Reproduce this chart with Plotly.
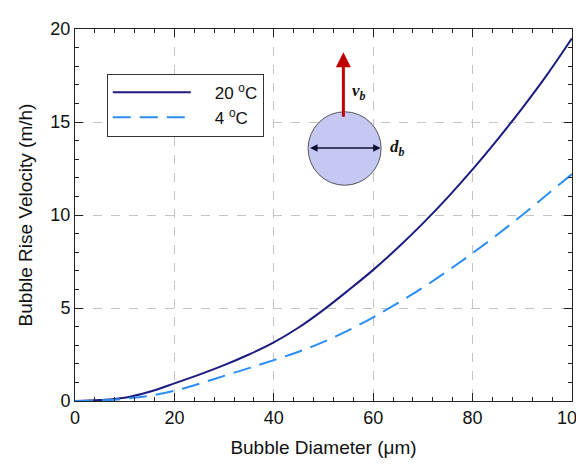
import plotly.graph_objects as go

diameter_um = [0, 5, 10, 15, 20, 25, 30, 35, 40, 45, 50, 55, 60, 65, 70, 75, 80, 85, 90, 95, 100]
velocity_20C = [0, 0.05, 0.18, 0.5, 0.95, 1.42, 1.93, 2.5, 3.15, 3.95, 4.9, 5.95, 7.05, 8.25, 9.55, 10.95, 12.45, 14.05, 15.75, 17.55, 19.5]
velocity_4C = [0, 0.03, 0.12, 0.28, 0.55, 0.93, 1.35, 1.77, 2.2, 2.65, 3.18, 3.8, 4.5, 5.27, 6.1, 7.0, 7.95, 8.95, 10.0, 11.1, 12.2]
series_names = ["&nbsp;&nbsp;&nbsp;&nbsp;20 <sup>o</sup>C", "&nbsp;&nbsp;&nbsp;&nbsp;4 <sup>o</sup>C"]
x_ticks = [0, 20, 40, 60, 80, 100]
y_ticks = [0, 5, 10, 15, 20]

FONT = "Liberation Sans, Arial, sans-serif"

fig = go.Figure()
fig.add_trace(go.Scatter(x=diameter_um, y=velocity_20C, mode="lines", name=series_names[0],
                         line=dict(color="#1c1c80", width=2, shape="spline", smoothing=1.0)))
fig.add_trace(go.Scatter(x=diameter_um, y=velocity_4C, mode="lines", name=series_names[1],
                         line=dict(color="#2b8ef0", width=2, dash="18px,9px", shape="spline", smoothing=1.0)))

# bubble illustration
fig.add_shape(type="circle", xref="x", yref="y", x0=46.9, x1=61.6, y0=11.6, y1=15.55,
              fillcolor="#c6c8f4", line=dict(color="#555555", width=1), layer="above")
fig.add_annotation(x=54.0, y=18.75, ax=54.0, ay=15.2, xref="x", yref="y", axref="x", ayref="y",
                   showarrow=True, arrowhead=2, arrowsize=1, arrowwidth=3, arrowcolor="#c00000", text="")
fig.add_annotation(x=61.5, y=13.6, ax=47.0, ay=13.6, xref="x", yref="y", axref="x", ayref="y",
                   showarrow=True, arrowhead=2, arrowside="end+start", arrowsize=1, arrowwidth=1.5,
                   startarrowhead=2, startarrowsize=1, arrowcolor="#111133", text="")
fig.add_annotation(x=57.2, y=16.6, xref="x", yref="y", showarrow=False, xanchor="center",
                   text="<b><i>v<sub>b</sub></i></b>",
                   font=dict(family="Liberation Serif, Times New Roman, serif", size=17, color="#111111"))
fig.add_annotation(x=64.8, y=13.6, xref="x", yref="y", showarrow=False, xanchor="center",
                   text="<b><i>d<sub>b</sub></i></b>",
                   font=dict(family="Liberation Serif, Times New Roman, serif", size=17, color="#111111"))

axis_common = dict(
    showline=True, linecolor="#222222", linewidth=1, mirror="ticks",
    ticks="inside", ticklen=8, tickcolor="#222222",
    showgrid=True, gridcolor="#c4c4c4", griddash="dash", gridwidth=1,
    zeroline=False, tickfont=dict(family=FONT, size=18, color="#111111"),
    automargin=False, ticklabeloverflow="allow",
)
fig.update_xaxes(range=[0, 100], tickvals=x_ticks, **axis_common,
                 minor=dict(ticks="inside", dtick=4, ticklen=4, tickcolor="#222222", showgrid=False),
                 title=dict(text="Bubble Diameter (μm)", font=dict(family=FONT, size=19, color="#111111"), standoff=14))
fig.update_yaxes(range=[0, 20], tickvals=y_ticks, **axis_common,
                 minor=dict(ticks="inside", dtick=1, ticklen=4, tickcolor="#222222", showgrid=False),
                 title=dict(text="Bubble Rise Velocity (m/h)", font=dict(family=FONT, size=19, color="#111111"), standoff=12))

# page body has an 8px margin, so the figure is sized/offset to compensate
fig.update_layout(
    width=584, height=459,
    margin=dict(l=67, r=20, t=21, b=66),
    paper_bgcolor="white", plot_bgcolor="white",
    showlegend=True,
    legend=dict(x=0.064, y=0.88, xanchor="left", yanchor="top",
                bgcolor="white", bordercolor="#333333", borderwidth=1,
                itemwidth=78, font=dict(family=FONT, size=17, color="#111111"),
                tracegroupgap=0),
)
fig.write_html("out.html")
